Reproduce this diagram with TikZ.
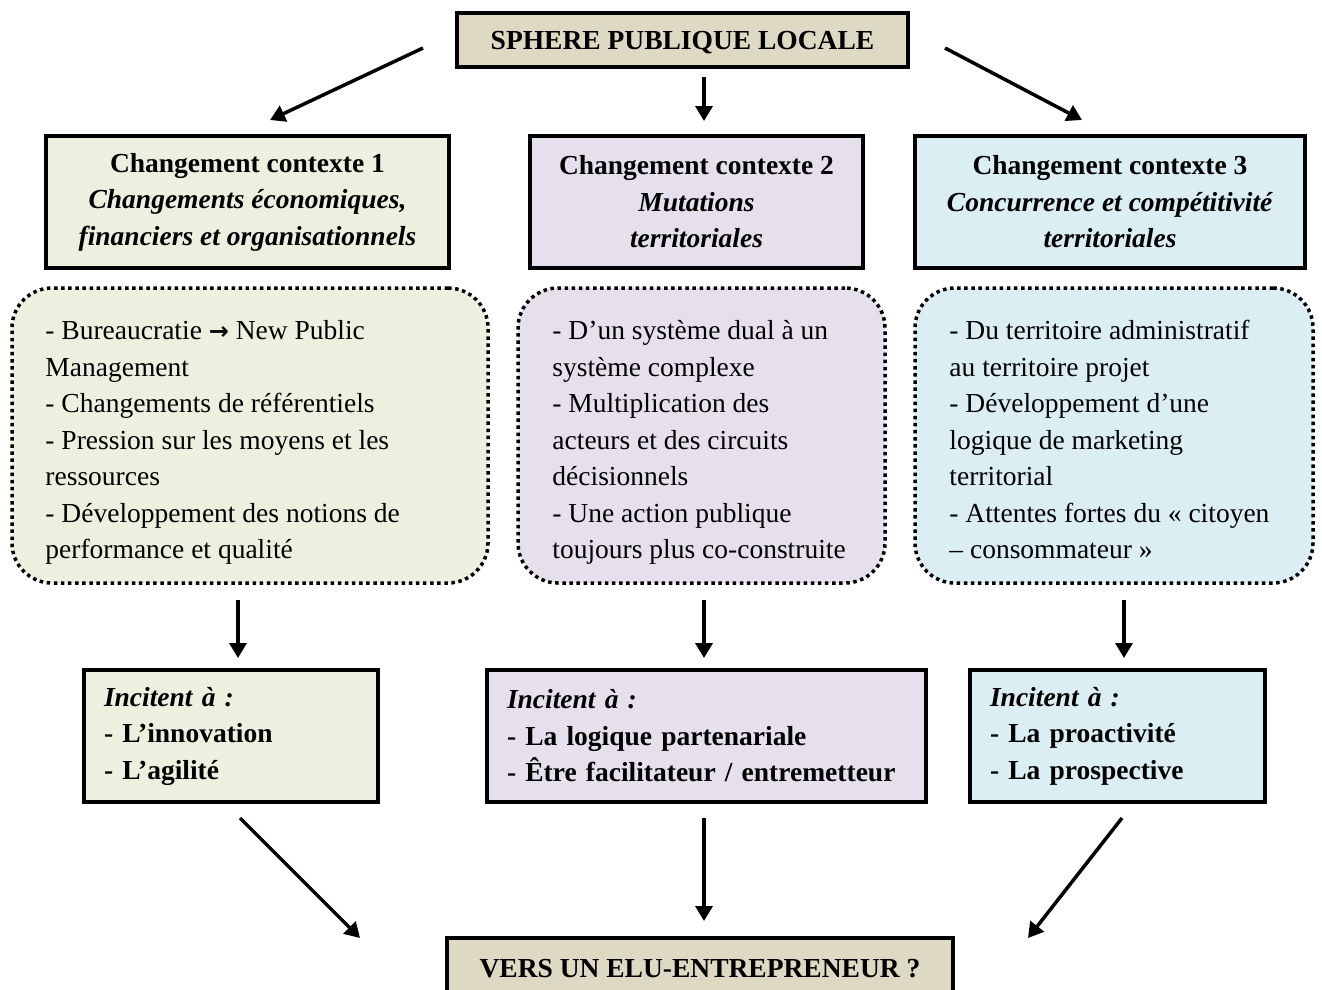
\documentclass[tikz,border=0pt]{standalone}
\usepackage{fontspec}
\setmainfont{Liberation Serif}
\newfontfamily\symfont{DejaVu Sans}
\usetikzlibrary{arrows.meta}
\definecolor{tanfill}{HTML}{DDD9C3}
\definecolor{greenfill}{HTML}{EBF1DE}
\definecolor{purplefill}{HTML}{E5E0EC}
\definecolor{bluefill}{HTML}{DBEEF4}
\tikzset{
  txt/.style={font=\fontsize{27.5}{36.5}\selectfont},
  solidbox/.style={txt, draw, line width=4pt, inner sep=0pt},
  titlebox/.style={solidbox, fill=tanfill, font=\fontsize{27.5}{36.5}\selectfont\bfseries,
     text height=18.5pt, text depth=0pt},
  dotbox/.style={draw, line width=3.5pt, dash pattern=on 3.5pt off 3.6pt,
     rounded corners=40pt, inner sep=0pt, minimum height=295pt},
  dottext/.style={txt, align=left, inner sep=0pt, anchor=west},
  incbox/.style={txt, draw, line width=4pt, inner xsep=20pt, inner ysep=0pt,
     align=left, minimum height=132pt},
  arr/.style={line width=3.5pt, -{Triangle[length=15pt,width=17pt]}},
}
\begin{document}
\begin{tikzpicture}[x=1pt,y=-1pt]
\useasboundingbox (0,0) rectangle (1322,989);
\fill[white] (0,0) rectangle (1322,989);

% top and bottom
\node[titlebox, minimum width=451pt, minimum height=54pt] (top) at (682.5,40) {SPHERE PUBLIQUE LOCALE};
\node[titlebox, minimum width=506pt, minimum height=60pt] (bot) at (700,968) {VERS UN ELU-ENTREPRENEUR ?};

% context boxes
\node[solidbox, fill=greenfill, minimum width=403pt, minimum height=132pt, align=center] (c1) at (247.5,202)
 {\textbf{Changement contexte 1}\\\textbf{\textit{Changements économiques,}}\\\textbf{\textit{financiers et organisationnels}}};
\node[solidbox, fill=purplefill, minimum width=333pt, minimum height=132pt, align=center] (c2) at (696.5,202)
 {\textbf{Changement contexte 2}\\\textbf{\textit{Mutations}}\\\textbf{\textit{territoriales}}};
\node[solidbox, fill=bluefill, minimum width=390pt, minimum height=132pt, align=center] (c3) at (1110,202)
 {\textbf{Changement contexte 3}\\\textbf{\textit{Concurrence et compétitivité}}\\\textbf{\textit{territoriales}}};

% dotted boxes
\node[dotbox, fill=greenfill, minimum width=476pt] (d1) at (250,435.5) {};
\node[dotbox, fill=purplefill, minimum width=367pt] (d2) at (701.5,435.5) {};
\node[dotbox, fill=bluefill, minimum width=398pt] (d3) at (1114,435.5) {};
\node[dottext, xshift=35pt, yshift=-7pt] (d1t) at (d1.west)
 {- Bureaucratie {\symfont\bfseries\fontsize{24}{36.5}\selectfont →} New Public\\Management\\- Changements de référentiels\\- Pression sur les moyens et les\\ressources\\- Développement des notions de\\performance et qualité};
\node[dottext, xshift=36pt, yshift=-7pt] (d2t) at (d2.west)
 {- D’un système dual à un\\système complexe\\- Multiplication des\\acteurs et des circuits\\décisionnels\\- Une action publique\\toujours plus co-construite};
\node[dottext, xshift=36pt, yshift=-4pt] (d3t) at (d3.west)
 {- Du territoire administratif\\au territoire projet\\- Développement d’une\\logique de marketing\\territorial\\- Attentes fortes du « citoyen\\– consommateur »};

% incitent boxes
\node[incbox, fill=greenfill, text width=254pt] (i1) at (231,736)
 {\textbf{\textit{Incitent à :}}\\\textbf{- L’innovation}\\\textbf{- L’agilité}};
\node[incbox, fill=purplefill, text width=399pt] (i2) at (706.5,736)
 {\textbf{\textit{Incitent à :}}\\\textbf{- La logique partenariale}\\\textbf{- Être facilitateur / entremetteur}};
\node[incbox, fill=bluefill, text width=255pt] (i3) at (1117.5,736)
 {\textbf{\textit{Incitent à :}}\\\textbf{- La proactivité}\\\textbf{- La prospective}};

% arrow end points
\coordinate (a1s) at (423,48);  \coordinate (a1e) at (270,120);
\coordinate (a2s) at (704,77);  \coordinate (a2e) at (704,121);
\coordinate (a3s) at (945,48);  \coordinate (a3e) at (1082,120);
\coordinate (b1s) at (238,600); \coordinate (b1e) at (238,658);
\coordinate (b2s) at (704,600); \coordinate (b2e) at (704,658);
\coordinate (b3s) at (1124,600);\coordinate (b3e) at (1124,658);
\coordinate (e1s) at (240,818); \coordinate (e1e) at (360,938);
\coordinate (e2s) at (704,818); \coordinate (e2e) at (704,921);
\coordinate (e3s) at (1122,818);\coordinate (e3e) at (1028,938);

\draw[arr] (a1s) -- (a1e);
\draw[arr] (a2s) -- (a2e);
\draw[arr] (a3s) -- (a3e);
\draw[arr] (b1s) -- (b1e);
\draw[arr] (b2s) -- (b2e);
\draw[arr] (b3s) -- (b3e);
\draw[arr] (e1s) -- (e1e);
\draw[arr] (e2s) -- (e2e);
\draw[arr] (e3s) -- (e3e);
\end{tikzpicture}
\end{document}
